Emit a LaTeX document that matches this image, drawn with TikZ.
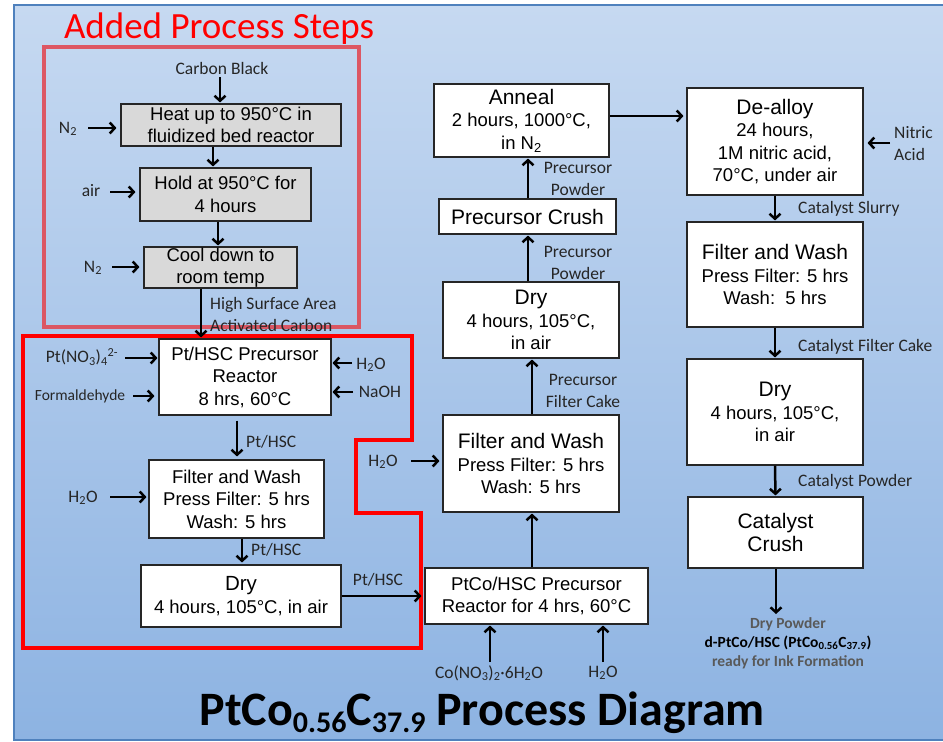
\documentclass[tikz,border=0pt]{standalone}
\usepackage{fontspec}
\setmainfont{Liberation Sans}
\newfontfamily\lblfont{Carlito}
\usetikzlibrary{arrows.meta}

\definecolor{bgtop}{HTML}{C6D9F1}
\definecolor{bgbot}{HTML}{8DB3E2}
\definecolor{frameblue}{HTML}{4F81BD}
\definecolor{softred}{HTML}{E04A55}
\definecolor{boxgray}{HTML}{D9D9D9}
\definecolor{lbltext}{HTML}{262626}
\definecolor{dimtext}{HTML}{595959}

\newcommand\bodyfs{\fontsize{18.5}{22.5}\selectfont}
\newcommand\headfs{\fontsize{21}{24}\selectfont}
\newcommand\lblfs{\lblfont\fontsize{17.5}{22}\selectfont}
% lowered index for the large heading
\newcommand\bigsub[1]{\raisebox{-7pt}{\fontsize{30}{30}\selectfont #1}}

\begin{document}
\begin{tikzpicture}[x=1pt,y=-1pt,
  stepbox/.style={draw=black!85, line width=1.1pt, fill=white, inner sep=0pt,
    align=center, font=\bodyfs},
  graybox/.style={stepbox, fill=boxgray},
  lbl/.style={inner sep=1pt, font=\lblfs, text=lbltext},
  arr/.style={line width=2.5pt, shorten >=1pt,
    -{Straight Barb[length=5pt,width=11pt]}},
  inarr/.style={arr, shorten >=4pt}
]
\useasboundingbox (0,0) rectangle (943,742);
\fill[white] (0,0) rectangle (943,742);

% slide background and frame
\shade[top color=bgtop, bottom color=bgbot] (14,5) rectangle (943,740);
\draw[frameblue, line width=2pt] (943,5) -- (14,5) -- (14,740) -- (943,740);

% headings
\node[anchor=base, inner sep=0pt, text=red,
  font=\lblfont\fontsize{37}{40}\selectfont] (added) at (219,38) {Added Process Steps};
\node[anchor=base, inner sep=0pt, text=black,
  font=\lblfont\bfseries\fontsize{48}{52}\selectfont] (title) at (482,725)
  {PtCo\bigsub{0.56}C\bigsub{37.9} Process Diagram};

% outlines of the two groups of steps
\draw[softred, line width=4pt, opacity=0.9] (44,47) rectangle (359,327);
\draw[red, line width=4pt, line join=miter]
  (23,336) -- (412,336) -- (412,440) -- (356,440) -- (356,513)
  -- (421,513) -- (421,648) -- (23,648) -- cycle;

% carbon activation steps
\node[graybox, minimum width=220pt, minimum height=42pt] (heat) at (231,125)
  {Heat up to 950°C in\\fluidized bed reactor};
\node[graybox, minimum width=171pt, minimum height=53pt] (hold) at (225.5,194.5)
  {Hold at 950°C for\\4 hours};
\node[graybox, minimum width=153pt, minimum height=41pt] (cool) at (220.5,267.5)
  {Cool down to\\room temp};

% Pt deposition steps
\node[stepbox, minimum width=172pt, minimum height=76pt] (ptrx) at (245,377)
  {Pt/HSC Precursor\\Reactor\\8 hrs, 60°C};
\node[stepbox, minimum width=175pt, minimum height=78pt] (filt1) at (236.5,499)
  {Filter and Wash\\Press Filter: 5 hrs\\Wash: 5 hrs};
\node[stepbox, minimum width=200pt, minimum height=62pt] (dry1) at (241,596)
  {{\fontsize{20.5}{24}\selectfont Dry}\\4 hours, 105°C, in air};

% PtCo precursor column
\node[stepbox, minimum width=223pt, minimum height=56pt] (ptco) at (536.5,596)
  {PtCo/HSC Precursor\\Reactor for 4 hrs, 60°C};
\node[stepbox, minimum width=176pt, minimum height=97pt] (filt2) at (531,463.5)
  {{\headfs Filter and Wash}\\Press Filter: 5 hrs\\Wash: 5 hrs};
\node[stepbox, minimum width=176pt, minimum height=76pt] (dry2) at (531,320)
  {{\headfs Dry}\\4 hours, 105°C,\\in air};
\node[stepbox, minimum width=177pt, minimum height=35pt] (crush) at (527.5,216.5)
  {{\headfs Precursor Crush}};
\node[stepbox, minimum width=175pt, minimum height=73pt] (anneal) at (521.5,120.5)
  {{\headfs Anneal}\\2 hours, 1000°C,\\in N\textsubscript{2}};

% catalyst column
\node[stepbox, minimum width=176pt, minimum height=107pt] (dealloy) at (775,141.5)
  {{\headfs De-alloy}\\24 hours,\\1M nitric acid,\\70°C, under air};
\node[stepbox, minimum width=176pt, minimum height=105pt] (filt3) at (775,274.5)
  {{\headfs Filter and Wash}\\Press Filter: 5 hrs\\Wash:\ \ 5 hrs};
\node[stepbox, minimum width=176pt, minimum height=106pt] (dry3) at (775,412)
  {{\headfs Dry}\\4 hours, 105°C,\\in air};
\node[stepbox, minimum width=175pt, minimum height=71pt] (ccrush) at (775.5,532.5)
  {{\headfs Catalyst}\\{\headfs Crush}};

% feed and stream labels
\node[lbl] (cb) at (222,68) {Carbon Black};
\node[lbl] (n2a) at (68,129) {N\textsubscript{2}};
\node[lbl] (air) at (91,191) {air};
\node[lbl] (n2b) at (93,268) {N\textsubscript{2}};
\node[lbl, anchor=west, align=left] (hsa) at (209,314) {High Surface Area\\Activated Carbon};
\node[lbl] (ptno) at (82,357) {Pt(NO\textsubscript{3})\textsubscript{4}\textsuperscript{2-}};
\node[lbl, font=\lblfont\fontsize{15.5}{18}\selectfont] (form) at (80,396) {Formaldehyde};
\node[lbl] (h2oa) at (371,365) {H\textsubscript{2}O};
\node[lbl] (naoh) at (380,392) {NaOH};
\node[lbl, anchor=west] (phA) at (245,442) {Pt/HSC};
\node[lbl] (h2ob) at (83,498) {H\textsubscript{2}O};
\node[lbl, anchor=west] (phB) at (250,550) {Pt/HSC};
\node[lbl] (phC) at (378,580) {Pt/HSC};
\node[lbl] (h2oc) at (383,462) {H\textsubscript{2}O};
\node[lbl] (cono) at (489,673) {Co(NO\textsubscript{3})\textsubscript{2}·6H\textsubscript{2}O};
\node[lbl] (h2od) at (603,673) {H\textsubscript{2}O};
\node[lbl, align=center] (pfc) at (583,391) {Precursor\\Filter Cake};
\node[lbl, align=center] (ppA) at (578,263) {Precursor\\Powder};
\node[lbl, align=center] (ppB) at (578,179) {Precursor\\Powder};
\node[lbl, anchor=west, align=left] (nitric) at (893,144) {Nitric\\Acid};
\node[lbl, anchor=west] (slurry) at (797,209) {Catalyst Slurry};
\node[lbl, anchor=west] (cake) at (797,347) {Catalyst Filter Cake};
\node[lbl, anchor=west] (cpow) at (797,482) {Catalyst Powder};
\node[align=center, inner sep=0pt, font=\lblfont\bfseries\fontsize{15.5}{19}\selectfont]
  (product) at (788,643)
  {\textcolor{dimtext}{Dry Powder}\\d-PtCo/HSC (PtCo\textsubscript{0.56}C\textsubscript{37.9})\\
   \textcolor{dimtext}{ready for Ink Formation}};

% start points of the feed arrows
\coordinate (cb-s) at (220,77);
\coordinate (n2a-s) at (88,128);
\coordinate (air-s) at (110,192);
\coordinate (n2b-s) at (112,267);
\coordinate (ptno-s) at (125,358);
\coordinate (form-s) at (133,396);
\coordinate (h2oa-s) at (352,363);
\coordinate (naoh-s) at (353,392);
\coordinate (h2ob-s) at (110,497);
\coordinate (h2oc-s) at (411,461);
\coordinate (cono-s) at (490,662);
\coordinate (h2od-s) at (603,662);
\coordinate (nitric-s) at (890,143);
\coordinate (outtip) at (776,615);

% feed arrows
\draw[arr] (cb-s) -- (cb-s |- heat.north);
\draw[inarr] (n2a-s) -- (n2a-s -| heat.west);
\draw[inarr] (air-s) -- (air-s -| hold.west);
\draw[inarr] (n2b-s) -- (n2b-s -| cool.west);
\draw[arr] (ptno-s) -- (ptno-s -| ptrx.west);
\draw[inarr] (form-s) -- (form-s -| ptrx.west);
\draw[arr] (h2oa-s) -- (h2oa-s -| ptrx.east);
\draw[arr] (naoh-s) -- (naoh-s -| ptrx.east);
\draw[arr, shorten >=2pt] (h2ob-s) -- (h2ob-s -| filt1.west);
\draw[arr, shorten >=3pt] (h2oc-s) -- (h2oc-s -| filt2.west);
\draw[arr] (cono-s) -- (cono-s |- ptco.south);
\draw[arr] (h2od-s) -- (h2od-s |- ptco.south);
\draw[inarr] (nitric-s) -- (nitric-s -| dealloy.east);

% process flow
\draw[arr] ([xshift=-18pt]heat.south) -- ([xshift=-18pt]heat.south |- hold.north);
\draw[arr] ([xshift=-7.5pt]hold.south) -- ([xshift=-7.5pt]hold.south |- cool.north);
\draw[arr] ([xshift=-19.5pt]cool.south) -- ([xshift=-19.5pt]cool.south |- ptrx.north);
\draw[arr, shorten <=5pt, shorten >=3pt] ([xshift=-8pt]ptrx.south) -- ([xshift=-8pt]ptrx.south |- filt1.north);
\draw[arr, shorten >=2pt] ([xshift=5.5pt]filt1.south) -- ([xshift=5.5pt]filt1.south |- dry1.north);
\draw[arr, shorten >=3pt] (dry1.east) -- (dry1.east -| ptco.west);
\draw[arr] ([xshift=-4.5pt]ptco.north) -- ([xshift=-4.5pt]ptco.north |- filt2.south);
\draw[arr] ([xshift=1pt]filt2.north) -- ([xshift=1pt]filt2.north |- dry2.south);
\draw[arr] ([xshift=-3pt]dry2.north) -- ([xshift=-3pt]dry2.north |- crush.south);
\draw[arr] ([xshift=0.5pt]crush.north) -- ([xshift=0.5pt]crush.north |- anneal.south);
\draw[arr, shorten >=3pt] ([yshift=4.5pt]anneal.east) -- ([yshift=4.5pt]anneal.east -| dealloy.west);
\draw[arr] (dealloy.south) -- (filt3.north);
\draw[arr] (filt3.south) -- (dry3.north);
\draw[arr] (dry3.south) -- (ccrush.north);
\draw[arr] ([xshift=0.5pt]ccrush.south) -- (outtip);
\end{tikzpicture}
\end{document}
